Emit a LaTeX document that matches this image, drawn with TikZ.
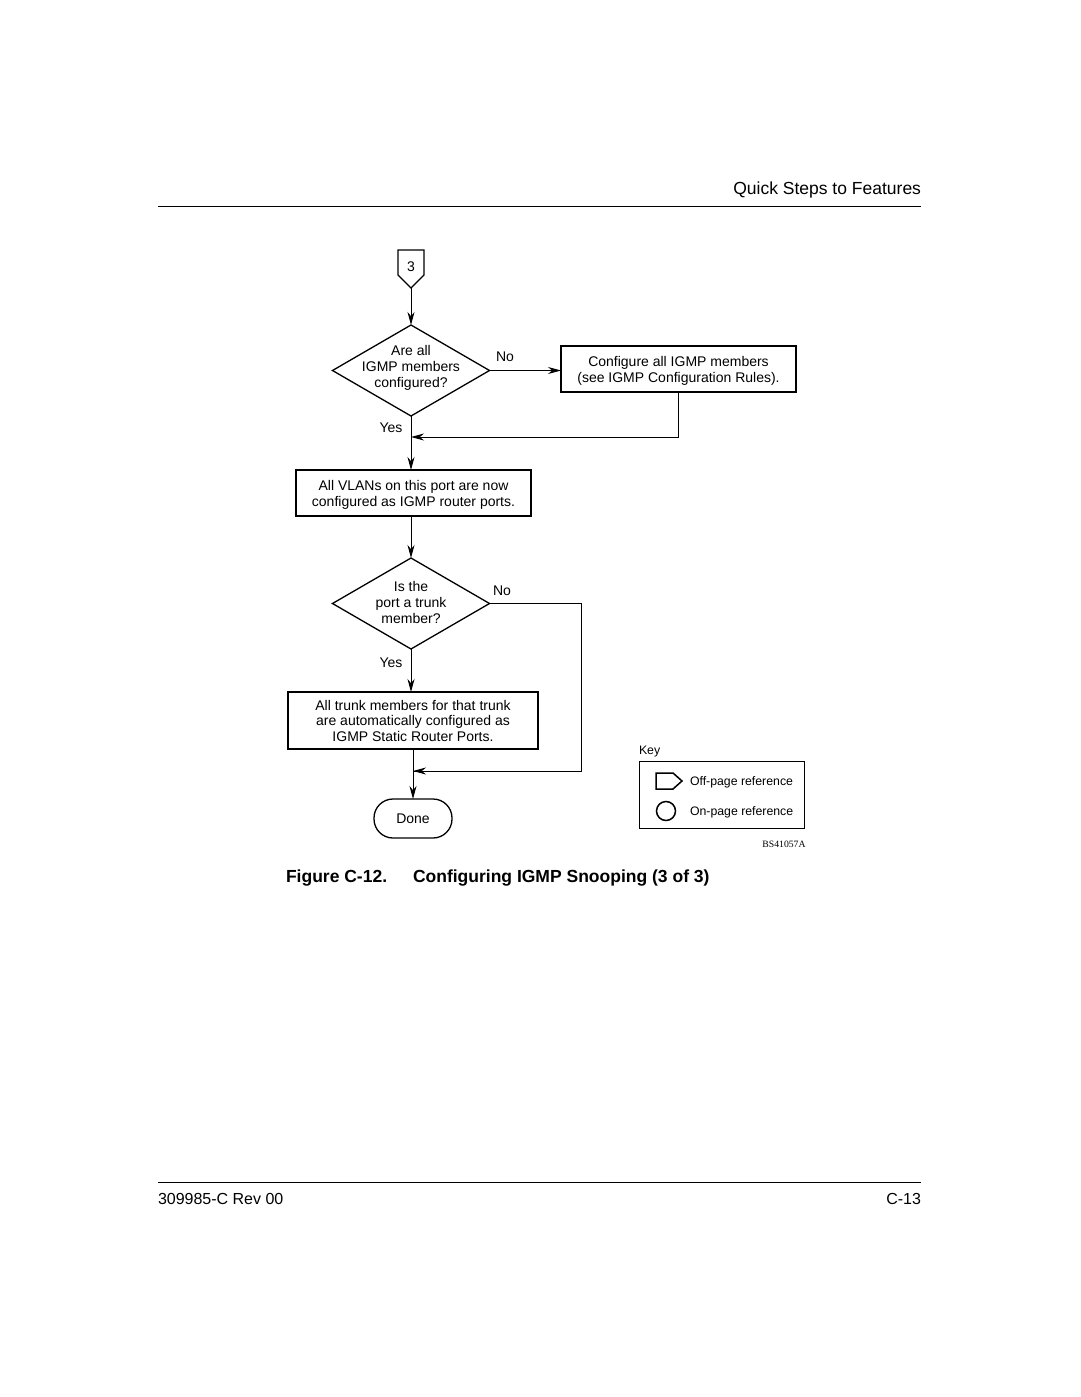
\documentclass[tikz,border=0pt]{standalone}
\usepackage{fontspec}
\setmainfont{Liberation Sans}
\newfontfamily\idfont{Liberation Serif}
\usetikzlibrary{shapes.geometric,arrows.meta}
\begin{document}
\begin{tikzpicture}[x=1pt,y=-1pt,
  every node/.style={inner sep=0pt, outer sep=0pt},
  boxnode/.style={draw, line width=1.8pt},
  dia/.style={draw, diamond, line width=1.3pt, minimum width=157pt, minimum height=91pt},
  txt/.style={align=center, font=\fontsize{14}{16}\selectfont, yshift=-2pt},
  lbl/.style={font=\fontsize{14}{16}\selectfont, yshift=-1.5pt},
  conn/.style={line width=0.9pt},
  arr/.style={conn, -{Stealth[length=13pt,width=7pt]}},
  keytxt/.style={font=\fontsize{12.3}{14}\selectfont, anchor=west, yshift=-1pt}
]
\useasboundingbox (0,0) rectangle (1080,1397);

% header and footer
\node[anchor=east, font=\fontsize{17.5}{20}\selectfont, yshift=-2pt] (hdr) at (921,188) {Quick Steps to Features};
\draw[line width=1pt] (158,206) -- (921,206);
\draw[line width=1pt] (158,1182) -- (921,1182);
\node[anchor=west, font=\fontsize{16}{20}\selectfont, yshift=-1.5pt] (ftl) at (158,1197) {309985-C Rev 00};
\node[anchor=east, font=\fontsize{16}{20}\selectfont, yshift=-1.5pt] (ftr) at (921,1197) {C-13};

% off-page connector 3
\draw[line width=1.3pt] (398,250) -- (424,250) -- (424,275) -- (411,288) -- (398,275) -- cycle;
\coordinate (c3tip) at (411,288);
\node[lbl] (c3) at (411,265) {3};

% decision 1
\node[dia] (d1) at (411,370.5) {};
\node[txt] (d1t) at (411,366) {Are all\\IGMP members\\configured?};
\draw[arr] (c3tip) -- (d1.north);

% box 1
\node[boxnode, minimum width=235pt, minimum height=46pt] (b1) at (678.5,369) {};
\node[txt] (b1t) at (b1) {Configure all IGMP members\\(see IGMP Configuration Rules).};
\draw[arr] (d1.east) -- (d1.east -| b1.west);
\node[lbl] (no1) at (505,355) {No};

% box 2
\node[boxnode, minimum width=235pt, minimum height=46pt] (b2) at (413.5,493) {};
\node[txt] (b2t) at (b2) {All VLANs on this port are now\\configured as IGMP router ports.};
\draw[arr] (d1.south) -- (d1.south |- b2.north);
\node[lbl] (yes1) at (391,426) {Yes};
\coordinate (m1) at (411,437);
\draw[arr] (b1.south) |- (m1);

% decision 2
\node[dia] (d2) at (411,603.5) {};
\node[txt] (d2t) at (411,600.5) {Is the\\port a trunk\\member?};
\draw[arr] (b2.south -| d2.north) -- (d2.north);
\node[lbl] (no2) at (502,589) {No};

% box 3
\node[boxnode, minimum width=250pt, minimum height=57pt] (b3) at (413,720.5) {};
\node[txt, font=\fontsize{14}{15.5}\selectfont, yshift=2pt] (b3t) at (b3) {All trunk members for that trunk\\are automatically configured as\\IGMP Static Router Ports.};
\draw[arr] (d2.south) -- (d2.south |- b3.north);
\node[lbl] (yes2) at (391,661) {Yes};

% done
\node[draw, line width=1.3pt, rounded corners=19pt, minimum width=78pt, minimum height=39pt] (done) at (413,818.5) {};
\node[lbl, yshift=1pt] (donet) at (done) {Done};
\draw[arr] (b3.south -| done.north) -- (done.north);
\coordinate (m2) at (413,771);
\coordinate (r2) at (581,602);
\draw[conn] (d2.east) -- (d2.east -| r2) -- (581,771) -- (m2);
\draw[arr] (581,771) -- (m2);

% key
\node[anchor=west, font=\fontsize{12.3}{14}\selectfont, yshift=-1.5pt] (keyl) at (639,750) {Key};
\node[draw, line width=1pt, minimum width=165pt, minimum height=67pt] (keybox) at (721.5,794.5) {};
\draw[line width=1.5pt] (656,773) -- (673,773) -- (682,781) -- (673,789) -- (656,789) -- cycle;
\node[keytxt] (k1) at (690,781) {Off-page reference};
\node[draw, circle, line width=1.5pt, minimum size=19pt] (kc) at (666,811) {};
\node[keytxt] (k2) at (690,811) {On-page reference};
\node[font=\idfont\fontsize{9.7}{11}\selectfont, yshift=-1pt] (fid) at (784,843) {BS41057A};

% caption
\node[anchor=west, font=\bfseries\fontsize{17.5}{20}\selectfont, yshift=-2pt] (cap1) at (286,876) {Figure C-12.};
\node[anchor=west, font=\bfseries\fontsize{17.5}{20}\selectfont, yshift=-2pt] (cap2) at (413,876) {Configuring IGMP Snooping (3 of 3)};
\end{tikzpicture}
\end{document}
